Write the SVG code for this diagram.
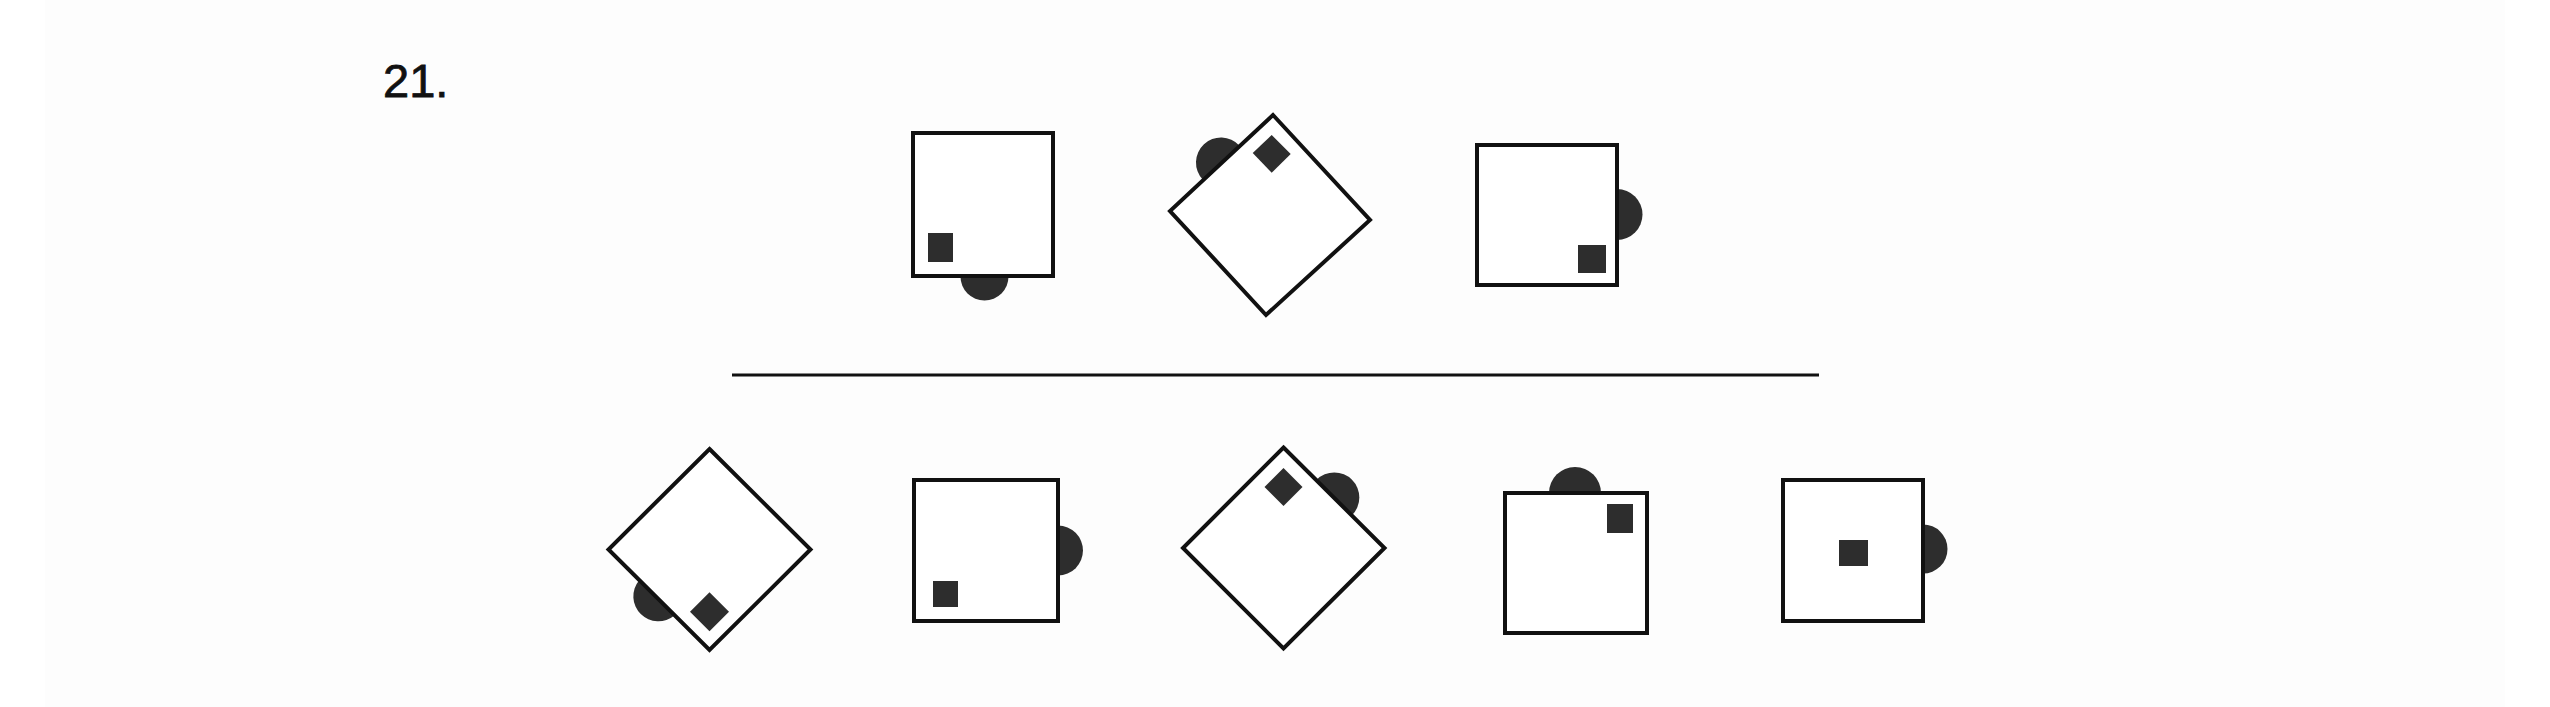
<svg xmlns="http://www.w3.org/2000/svg" width="2550" height="707" viewBox="0 0 2550 707">
  <style>
    .frame { fill: #ffffff; stroke: #111111; stroke-width: 4; stroke-linejoin: miter; }
    .blob { fill: #2d2d2d; stroke: none; }
    .label { font-family: "Liberation Sans", Arial, sans-serif; font-size: 47px; fill: #111111; stroke: #111111; stroke-width: 0.8; }
  </style>
  <rect x="0" y="0" width="2550" height="707" fill="#ffffff"/>
  <rect x="45" y="0" width="2460" height="707" fill="#fdfdfd"/>

  <g id="title">
    <text class="label" x="383" y="97">21.</text>
  </g>

  <!-- top row -->
  <g id="top-1">
    <path class="blob" d="M 960.5 276.5 A 24 24 0 0 0 1008.5 276.5 Z"/>
    <rect class="frame" x="913" y="133" width="140" height="143"/>
    <rect class="blob" x="928" y="233" width="25" height="29"/>
  </g>

  <g id="top-2">
    <path class="blob" d="M 1202.7 179.6 A 25 25 0 0 1 1239.3 145.5 Z"/>
    <polygon class="frame" points="1273,115 1370,220 1266,315 1170,211"/>
    <polygon class="blob" points="1271.7,135 1290.7,154 1271.7,172.7 1252.7,153"/>
  </g>

  <g id="top-3">
    <path class="blob" d="M 1617 189 A 25.5 25.5 0 0 1 1617 240 Z"/>
    <rect class="frame" x="1477" y="145" width="140" height="140"/>
    <rect class="blob" x="1578" y="245" width="28" height="28"/>
  </g>

  <g id="connectors">
    <line x1="732" y1="375" x2="1819" y2="375" stroke="#111111" stroke-width="3"/>
  </g>

  <!-- bottom row -->
  <g id="bottom-1">
    <path class="blob" d="M 639 580.5 A 25 25 0 0 0 674.4 615.5 Z"/>
    <polygon class="frame" points="709.5,449 810.5,549.5 709.5,650 608.5,549.5"/>
    <polygon class="blob" points="709.5,592.2 729,611.7 709.5,631.2 690,611.7"/>
  </g>

  <g id="bottom-2">
    <path class="blob" d="M 1058 525.5 A 25 25 0 0 1 1058 575.5 Z"/>
    <rect class="frame" x="914" y="480" width="144" height="141"/>
    <rect class="blob" x="933" y="581" width="25" height="26"/>
  </g>

  <g id="bottom-3">
    <path class="blob" d="M 1316.6 479.8 A 25 25 0 0 1 1352 515.2 Z"/>
    <polygon class="frame" points="1283.5,447.5 1384.5,548 1283.5,648.5 1183,548"/>
    <polygon class="blob" points="1283.5,468 1302.5,487 1283.5,506 1264.5,487"/>
  </g>

  <g id="bottom-4">
    <path class="blob" d="M 1549 493 A 26 26 0 0 1 1601 493 Z"/>
    <rect class="frame" x="1505" y="493" width="142" height="140"/>
    <rect class="blob" x="1607" y="504" width="26" height="29"/>
  </g>

  <g id="bottom-5">
    <path class="blob" d="M 1923 524.5 A 24.5 24.5 0 0 1 1923 573.5 Z"/>
    <rect class="frame" x="1783" y="480" width="140" height="141"/>
    <rect class="blob" x="1839" y="540" width="29" height="26"/>
  </g>
</svg>
